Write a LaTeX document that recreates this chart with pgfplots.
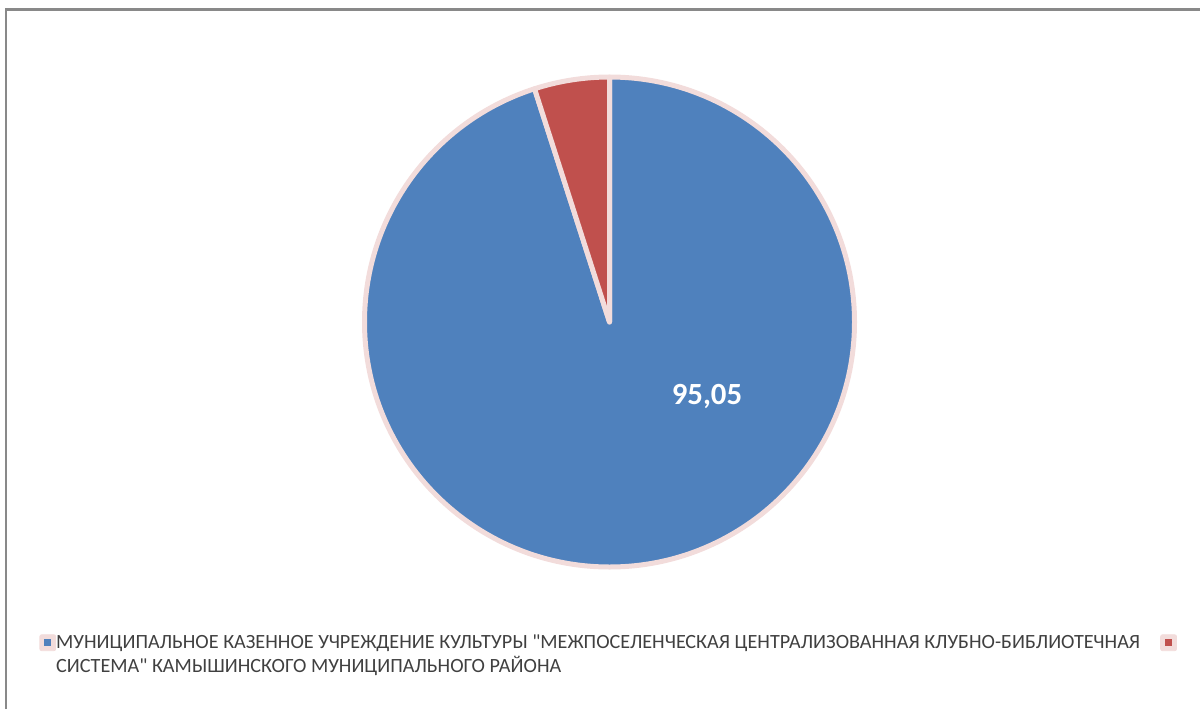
\documentclass[border=0pt]{standalone}
\usepackage{fontspec}
\usepackage{pgfplots}
\usepackage{pgfplotstable}
\pgfplotsset{compat=1.18}
\newfontfamily\chartfont{Carlito}

\definecolor{pieblue}{HTML}{4F81BD}
\definecolor{piered}{HTML}{C0504D}
\definecolor{pieedge}{HTML}{F2DCDB}
\definecolor{legtext}{HTML}{404040}
\definecolor{frame}{HTML}{898989}

% share of each budget recipient, percent
\pgfplotstableread{
name value color
mkuk  95.05 pieblue
other 4.95  piered
}\piedata

\begin{document}
\begin{tikzpicture}
\begin{axis}[
    width=600pt, height=354.5pt, scale only axis,
    xmin=0, xmax=1200, ymin=0, ymax=709,
    hide axis,
    font=\chartfont,
    legend columns=2,
    legend style={at={(axis cs:33,83)}, anchor=north west,
        draw=none, fill=none, text=legtext,
        font=\chartfont\fontsize{10.1}{12}\selectfont,
        /tikz/every even column/.append style={column sep=2pt}},
    legend cell align=left,
]
% frame of the chart area
\draw[frame, line width=1.1pt] (axis cs:6,0) -- (axis cs:6,699.5) -- (axis cs:1200,699.5);

% pie slices, clockwise from 12 o'clock
\def\startang{90}
\pgfplotsforeachungrouped \i in {0,1}{%
    \pgfplotstablegetelem{\i}{value}\of\piedata
    \pgfmathsetmacro\endang{\startang-3.6*\pgfplotsretval}
    \pgfplotstablegetelem{\i}{color}\of\piedata
    \edef\temp{\noexpand\fill[fill=\pgfplotsretval, draw=pieedge, line width=2.5pt, line join=round]
        (axis cs:609.5,387) -- ++(\startang:122.5pt)
        arc[start angle=\startang, end angle=\endang, radius=122.5pt] -- cycle;}
    \temp
    \global\let\startang\endang
}
\node[text=white, font=\chartfont\bfseries\fontsize{15.4}{17}\selectfont]
    at (axis cs:707,313) {95,05};

\addlegendimage{legend image code/.code={
    \fill[pieedge, rounded corners=1pt] (0pt,-4pt) rectangle (8pt,4pt);
    \fill[pieblue] (2.5pt,-1.5pt) rectangle (5.5pt,1.5pt);}}
\addlegendentry{\parbox[t]{546pt}{\raggedright\hspace*{-2pt}МУНИЦИПАЛЬНОЕ КАЗЕННОЕ УЧРЕЖДЕНИЕ КУЛЬТУРЫ "МЕЖПОСЕЛЕНЧЕСКАЯ ЦЕНТРАЛИЗОВАННАЯ КЛУБНО-БИБЛИОТЕЧНАЯ\\
    \hspace*{-2pt}СИСТЕМА" КАМЫШИНСКОГО МУНИЦИПАЛЬНОГО РАЙОНА}}
\addlegendimage{legend image code/.code={
    \fill[pieedge, rounded corners=1pt] (0pt,-4pt) rectangle (8pt,4pt);
    \fill[piered] (2.5pt,-1.5pt) rectangle (5.5pt,1.5pt);}}
\addlegendentry{}
\end{axis}
\pgfresetboundingbox
\useasboundingbox (0,0) rectangle (600pt,354.5pt);
\end{tikzpicture}
\end{document}
